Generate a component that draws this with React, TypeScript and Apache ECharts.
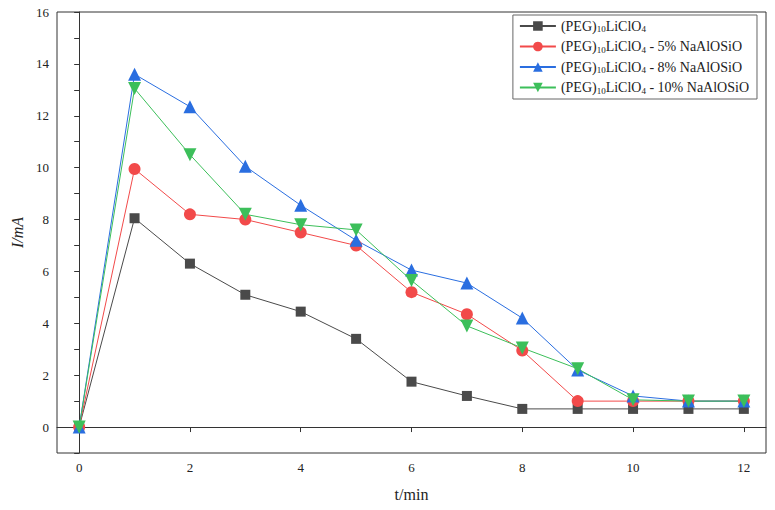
import { useEffect, useRef } from "react";
import * as echarts from "echarts";

const times = [0, 1, 2, 3, 4, 5, 6, 7, 8, 9, 10, 11, 12];
const pure = [0, 8.05, 6.3, 5.1, 4.45, 3.4, 1.75, 1.2, 0.7, 0.7, 0.7, 0.7, 0.7];
const five = [0, 9.95, 8.2, 8.0, 7.5, 7.0, 5.2, 4.35, 2.95, 1.0, 1.0, 1.0, 1.0];
const eight = [0, 13.6, 12.35, 10.05, 8.55, 7.2, 6.05, 5.55, 4.2, 2.2, 1.2, 1.0, 1.0];
const ten = [0, 13.05, 10.5, 8.2, 7.8, 7.6, 5.65, 3.9, 3.05, 2.25, 1.05, 1.0, 1.0];
const xTicks = [0, 2, 4, 6, 8, 10, 12];
const names = ["pure", "5%", "8%", "10%"];
const suffixes = ["", " - 5% NaAlOSiO", " - 8% NaAlOSiO", " - 10% NaAlOSiO"];

const FONT = "serif";

export default function App() {
  const ref = useRef<HTMLDivElement>(null);
  useEffect(() => {
    if (!ref.current) return;
    const chart = echarts.init(ref.current, null, { renderer: "svg" });
    const mk = (name: string, data: number[], color: string, symbol: string, size: number) => ({
      name,
      type: "line",
      data: times.map((t, i) => [t, data[i]]),
      symbol,
      symbolSize: size,
      lineStyle: { color, width: 1 },
      itemStyle: { color },
      z: 3,
    });
    chart.setOption({
      animation: false,
      textStyle: { fontFamily: FONT },
      grid: {
        left: 49, right: 1, top: 4, bottom: 49,
        containLabel: false, outerBoundsMode: "none",
        show: true, borderColor: "#333", borderWidth: 1,
      },
      legend: {
        right: 10,
        top: 7,
        orient: "vertical",
        backgroundColor: "#fff",
        borderColor: "#666",
        borderWidth: 1,
        padding: [4, 8, 4, 6],
        itemGap: 6,
        itemWidth: 36,
        itemHeight: 12,
        formatter: (n: string) => `{a|(PEG)}{s|10}{a|LiClO}{s|4}{a|${suffixes[names.indexOf(n)]}}`,
        textStyle: {
          rich: {
            a: { fontFamily: FONT, fontSize: 14, color: "#222" },
            s: { fontFamily: FONT, fontSize: 9, color: "#222", verticalAlign: "bottom", padding: [6, 0, 0, 0] },
          },
        },
      },
      xAxis: {
        type: "value",
        min: -0.4,
        max: 12.4,
        name: "t/min",
        nameLocation: "middle",
        nameGap: 33,
        nameTextStyle: { fontFamily: FONT, fontSize: 16, color: "#222" },
        axisLine: { lineStyle: { color: "#333" } },
        axisTick: { customValues: xTicks, length: 5, lineStyle: { color: "#333" } },
        axisLabel: { customValues: xTicks, fontFamily: FONT, fontSize: 13, color: "#222" },
        splitLine: { show: false },
      },
      yAxis: {
        type: "value",
        min: -1,
        max: 16,
        interval: 1,
        name: "I/mA",
        nameLocation: "middle",
        nameGap: 32,
        nameTextStyle: { fontFamily: FONT, fontSize: 16, fontStyle: "italic", color: "#222" },
        axisLine: { lineStyle: { color: "#333" } },
        axisTick: { length: 5, lineStyle: { color: "#333" } },
        axisLabel: {
          fontFamily: FONT,
          fontSize: 13,
          color: "#222",
          formatter: (v: number) => (v >= 0 && v % 2 === 0 ? String(v) : ""),
        },
        splitLine: { show: false },
      },
      series: [
        mk("pure", pure, "#4a4a4a", "rect", 10),
        mk("5%", five, "#f24a4a", "circle", 12),
        mk("8%", eight, "#2a6ee0", "triangle", 13),
        { ...mk("10%", ten, "#3cbf5a", "triangle", 13), symbolRotate: 180 },
      ],
    });
    return () => chart.dispose();
  }, []);
  return <div ref={ref} style={{ width: 759, height: 494 }} />;
}
